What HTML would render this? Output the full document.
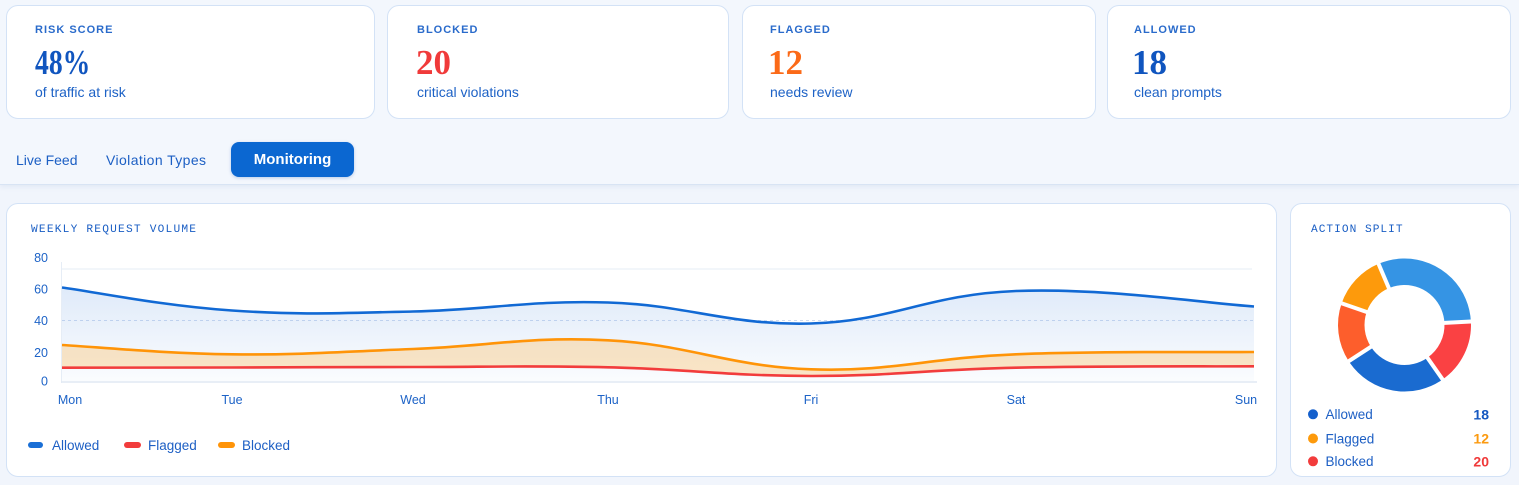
<!DOCTYPE html>
<html><head><meta charset="utf-8"><style>
html,body{margin:0;padding:0}
body{width:1519px;height:485px;overflow:hidden;background:#f1f5fc;font-family:"Liberation Sans",sans-serif;position:relative}
.bar{position:absolute;left:0;top:0;width:1519px;height:184px;background:#f3f7fd;border-bottom:1px solid #d8e4f4;box-shadow:0 2px 5px rgba(40,90,170,0.08)}
.card{position:absolute;background:#fff;border:1px solid #d3e2f6;border-radius:12px;box-sizing:border-box}
.lbl{position:absolute;font-size:11px;letter-spacing:1px;color:#2a6bcb;line-height:14px;font-weight:bold;white-space:nowrap}
.val{position:absolute;font-family:"Liberation Serif",serif;font-weight:bold;font-size:35px;line-height:35px;white-space:nowrap}
.sub{position:absolute;font-size:14px;line-height:20px;color:#1d62c6;white-space:nowrap}
.tab{position:absolute;font-size:14px;line-height:20px;color:#1c5fc4;white-space:nowrap}
.btn{position:absolute;left:231px;top:142px;width:123px;height:35px;background:#0b67d1;border-radius:8px;color:#fff;font-weight:bold;font-size:15px;line-height:35px;text-align:center;box-shadow:0 1px 3px rgba(10,80,180,0.25)}
svg{position:absolute;left:0;top:0}
</style></head><body>
<div class="bar"></div>

<div class="card" style="left:6px;top:5px;width:369px;height:114px"></div>
<div class="card" style="left:387px;top:5px;width:342px;height:114px"></div>
<div class="card" style="left:742px;top:5px;width:354px;height:114px"></div>
<div class="card" style="left:1107px;top:5px;width:404px;height:114px"></div>

<div class="lbl" style="left:35px;top:23px">RISK SCORE</div>
<div class="val" style="left:35px;top:45px;color:#1055bf;transform:scaleX(0.79);transform-origin:left center">48%</div>
<div class="sub" style="left:35px;top:82px">of traffic at risk</div>

<div class="lbl" style="left:417px;top:23px">BLOCKED</div>
<div class="val" style="left:416px;top:45px;color:#f03a3a">20</div>
<div class="sub" style="left:417px;top:82px">critical violations</div>

<div class="lbl" style="left:770px;top:23px">FLAGGED</div>
<div class="val" style="left:768px;top:45px;color:#fb6a18">12</div>
<div class="sub" style="left:770px;top:82px">needs review</div>

<div class="lbl" style="left:1134px;top:23px">ALLOWED</div>
<div class="val" style="left:1132px;top:45px;color:#1055bf">18</div>
<div class="sub" style="left:1134px;top:82px">clean prompts</div>

<div class="tab" style="left:16px;top:150px">Live Feed</div>
<div class="tab" style="left:106px;top:150px;letter-spacing:0.4px">Violation Types</div>
<div class="btn">Monitoring</div>

<div class="card" style="left:6px;top:203px;width:1271px;height:274px"></div>
<div class="card" style="left:1290px;top:203px;width:221px;height:274px"></div>

<svg width="1519" height="485" viewBox="0 0 1519 485">
<defs>
<linearGradient id="gb" x1="0" y1="0" x2="0" y2="1">
<stop offset="0" stop-color="#2a74d8" stop-opacity="0.15"/>
<stop offset="1" stop-color="#2a74d8" stop-opacity="0.02"/>
</linearGradient>
</defs>
<text x="31" y="232" font-family="Liberation Mono, monospace" font-size="11.2" letter-spacing="1.2" fill="#1a5ec4">WEEKLY REQUEST VOLUME</text>
<text x="1311" y="232" font-family="Liberation Mono, monospace" font-size="11.2" letter-spacing="1.0" fill="#1a5ec4">ACTION SPLIT</text>

<!-- grid -->
<line x1="62" y1="269" x2="1252" y2="269" stroke="#e6edf6" stroke-width="1"/>
<line x1="62" y1="320.5" x2="1254" y2="320.5" stroke="#cfdcf0" stroke-width="1" stroke-dasharray="3 3"/>
<line x1="61.5" y1="262" x2="61.5" y2="383" stroke="#e6edf6" stroke-width="1"/>

<!-- fills -->
<path d="M62,287.5 C96,292.1 161.8,305.7 232,310.5 C302.2,315.3 337.8,313.1 413,311.5 C488.2,309.9 528.4,300.1 608,302.5 C687.6,304.9 729.4,325.8 811,323.5 C892.6,321.2 927.4,294.4 1016,291 C1104.6,287.6 1206.4,303.4 1254,306.5 L1254,382 L62,382 Z" fill="url(#gb)"/>
<path d="M62,345 C96,346.86 161.8,353.5 232,354.3 C302.2,355.1 337.8,351.8 413,349 C488.2,346.2 528.4,336.24 608,340.3 C687.6,344.36 729.4,366.5 811,369.3 C892.6,372.1 927.4,357.76 1016,354.3 C1104.6,350.84 1206.4,352.46 1254,352 L1254,366.3 C1206.4,366.58 1104.6,365.76 1016,367.7 C927.4,369.64 892.6,376.08 811,376 C729.4,375.92 687.6,369.1 608,367.3 C528.4,365.5 488.2,366.96 413,367 C337.8,367.04 302.2,367.36 232,367.5 C161.8,367.64 96,367.66 62,367.7 Z" fill="#ffb347" fill-opacity="0.3"/>

<line x1="61" y1="382" x2="1257" y2="382" stroke="#e1e9f4" stroke-width="1.5"/>

<!-- lines -->
<path d="M62,287.5 C96,292.1 161.8,305.7 232,310.5 C302.2,315.3 337.8,313.1 413,311.5 C488.2,309.9 528.4,300.1 608,302.5 C687.6,304.9 729.4,325.8 811,323.5 C892.6,321.2 927.4,294.4 1016,291 C1104.6,287.6 1206.4,303.4 1254,306.5" fill="none" stroke="#1169d4" stroke-width="2.6"/>
<path d="M62,345 C96,346.86 161.8,353.5 232,354.3 C302.2,355.1 337.8,351.8 413,349 C488.2,346.2 528.4,336.24 608,340.3 C687.6,344.36 729.4,366.5 811,369.3 C892.6,372.1 927.4,357.76 1016,354.3 C1104.6,350.84 1206.4,352.46 1254,352" fill="none" stroke="#ff9408" stroke-width="2.6"/>
<path d="M62,367.7 C96,367.66 161.8,367.64 232,367.5 C302.2,367.36 337.8,367.04 413,367 C488.2,366.96 528.4,365.5 608,367.3 C687.6,369.1 729.4,375.92 811,376 C892.6,376.08 927.4,369.64 1016,367.7 C1104.6,365.76 1206.4,366.58 1254,366.3" fill="none" stroke="#f23c3c" stroke-width="2.6"/>

<!-- y labels -->
<g font-family="Liberation Sans, sans-serif" font-size="12.5" fill="#1d63c7" text-anchor="end">
<text x="48" y="262.2">80</text>
<text x="48" y="293.5">60</text>
<text x="48" y="324.8">40</text>
<text x="48" y="356.8">20</text>
<text x="48" y="385.5">0</text>
</g>
<!-- x labels -->
<g font-family="Liberation Sans, sans-serif" font-size="12.5" fill="#1d63c7" text-anchor="middle">
<text x="70" y="403.8">Mon</text>
<text x="232" y="403.8">Tue</text>
<text x="413" y="403.8">Wed</text>
<text x="608" y="403.8">Thu</text>
<text x="811" y="403.8">Fri</text>
<text x="1016" y="403.8">Sat</text>
<text x="1246" y="403.8">Sun</text>
</g>

<!-- legend -->
<rect x="28" y="442" width="15" height="6" rx="3" fill="#1a6fd6"/>
<rect x="124" y="442" width="17" height="6" rx="3" fill="#f23c3c"/>
<rect x="218" y="442" width="17" height="6" rx="3" fill="#ff9408"/>
<g font-family="Liberation Sans, sans-serif" font-size="13.5" fill="#1d5fc4">
<text x="52" y="449.8">Allowed</text>
<text x="148" y="449.8">Flagged</text>
<text x="242" y="449.8">Blocked</text>
</g>

<!-- donut -->
<g fill="none" stroke-width="26.5">
<circle cx="1404.5" cy="325" r="53.25" stroke="#3594e4" stroke-dasharray="102.23 334.58" transform="rotate(247 1404.5 325)"/>
<circle cx="1404.5" cy="325" r="53.25" stroke="#fa4143" stroke-dasharray="53.90 334.58" transform="rotate(-3 1404.5 325)"/>
<circle cx="1404.5" cy="325" r="53.25" stroke="#1a6bd0" stroke-dasharray="85.50 334.58" transform="rotate(55 1404.5 325)"/>
<circle cx="1404.5" cy="325" r="53.25" stroke="#fd5e2c" stroke-dasharray="48.33 334.58" transform="rotate(147 1404.5 325)"/>
<circle cx="1404.5" cy="325" r="53.25" stroke="#fd9a0c" stroke-dasharray="44.61 334.58" transform="rotate(199 1404.5 325)"/>
</g>
<g stroke="#fff" stroke-width="4">
<line x1="1404.5" y1="287" x2="1404.5" y2="256" transform="rotate(337 1404.5 325)"/>
<line x1="1404.5" y1="287" x2="1404.5" y2="256" transform="rotate(87 1404.5 325)"/>
<line x1="1404.5" y1="287" x2="1404.5" y2="256" transform="rotate(145 1404.5 325)"/>
<line x1="1404.5" y1="287" x2="1404.5" y2="256" transform="rotate(237 1404.5 325)"/>
<line x1="1404.5" y1="287" x2="1404.5" y2="256" transform="rotate(289 1404.5 325)"/>
</g>

<!-- donut legend -->
<circle cx="1313" cy="414.3" r="5" fill="#1560cc"/>
<circle cx="1313" cy="438.5" r="5" fill="#fd9a0c"/>
<circle cx="1313" cy="461.3" r="5" fill="#f23c3c"/>
<g font-family="Liberation Sans, sans-serif" font-size="13.5" fill="#1d5fc4">
<text x="1325.5" y="419.1">Allowed</text>
<text x="1325.5" y="443.3">Flagged</text>
<text x="1325.5" y="466.1">Blocked</text>
</g>
<g font-family="Liberation Sans, sans-serif" font-size="14" font-weight="bold" text-anchor="end">
<text x="1489" y="419.3" fill="#1558c0">18</text>
<text x="1489" y="443.5" fill="#fb9a10">12</text>
<text x="1489" y="466.3" fill="#f03a3a">20</text>
</g>
</svg>
</body></html>
